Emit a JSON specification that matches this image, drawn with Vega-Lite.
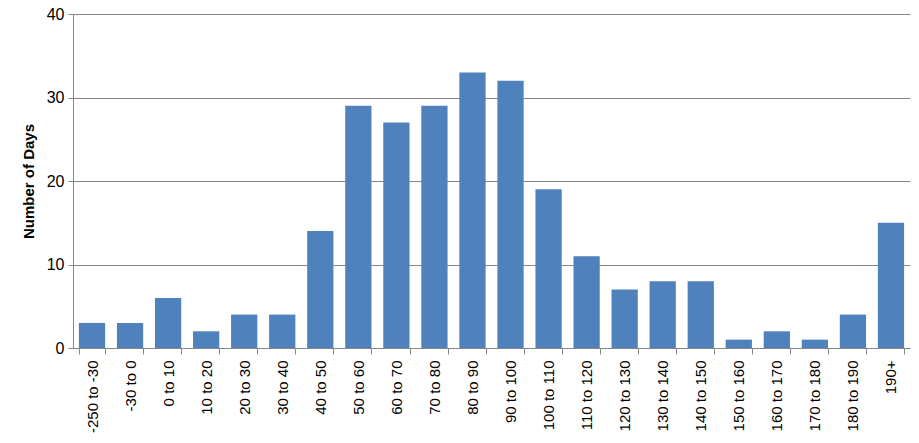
{
  "$schema": "https://vega.github.io/schema/vega-lite/v6.json",
  "width": 837,
  "height": 334,
  "autosize": {"type": "none"},
  "padding": {"left": 73, "top": 14, "right": 9, "bottom": 95},
  "background": "white",
  "data": {"values": [
    {"range": "-250 to -30", "days": 3},
    {"range": "-30 to 0", "days": 3},
    {"range": "0 to 10", "days": 6},
    {"range": "10 to 20", "days": 2},
    {"range": "20 to 30", "days": 4},
    {"range": "30 to 40", "days": 4},
    {"range": "40 to 50", "days": 14},
    {"range": "50 to 60", "days": 29},
    {"range": "60 to 70", "days": 27},
    {"range": "70 to 80", "days": 29},
    {"range": "80 to 90", "days": 33},
    {"range": "90 to 100", "days": 32},
    {"range": "100 to 110", "days": 19},
    {"range": "110 to 120", "days": 11},
    {"range": "120 to 130", "days": 7},
    {"range": "130 to 140", "days": 8},
    {"range": "140 to 150", "days": 8},
    {"range": "150 to 160", "days": 1},
    {"range": "160 to 170", "days": 2},
    {"range": "170 to 180", "days": 1},
    {"range": "180 to 190", "days": 4},
    {"range": "190+", "days": 15}
  ]},
  "mark": {"type": "bar", "color": "#4F81BD"},
  "encoding": {
    "x": {
      "field": "range",
      "type": "nominal",
      "sort": null,
      "scale": {"paddingInner": 0.31, "paddingOuter": 0.155},
      "axis": {
        "title": null,
        "labelAngle": -90,
        "labelAlign": "right",
        "labelBaseline": "middle",
        "labelFont": "Liberation Sans",
        "labelFontSize": 15,
        "labelColor": "#000000",
        "labelPadding": 6,
        "tickBand": "extent",
        "tickColor": "#868686",
        "tickSize": 6,
        "domainColor": "#868686",
        "grid": false
      }
    },
    "y": {
      "field": "days",
      "type": "quantitative",
      "scale": {"domain": [0, 40]},
      "axis": {
        "title": "Number of Days",
        "titleFont": "Liberation Sans",
        "titleFontSize": 15,
        "titleFontWeight": "bold",
        "titleColor": "#000000",
        "titlePadding": 10,
        "values": [0, 10, 20, 30, 40],
        "labelFont": "Liberation Sans",
        "labelFontSize": 16,
        "labelColor": "#000000",
        "labelPadding": 4,
        "tickColor": "#868686",
        "tickSize": 5,
        "domainColor": "#868686",
        "grid": true,
        "gridColor": "#868686",
        "gridWidth": 1
      }
    }
  },
  "config": {"view": {"stroke": null}}
}
